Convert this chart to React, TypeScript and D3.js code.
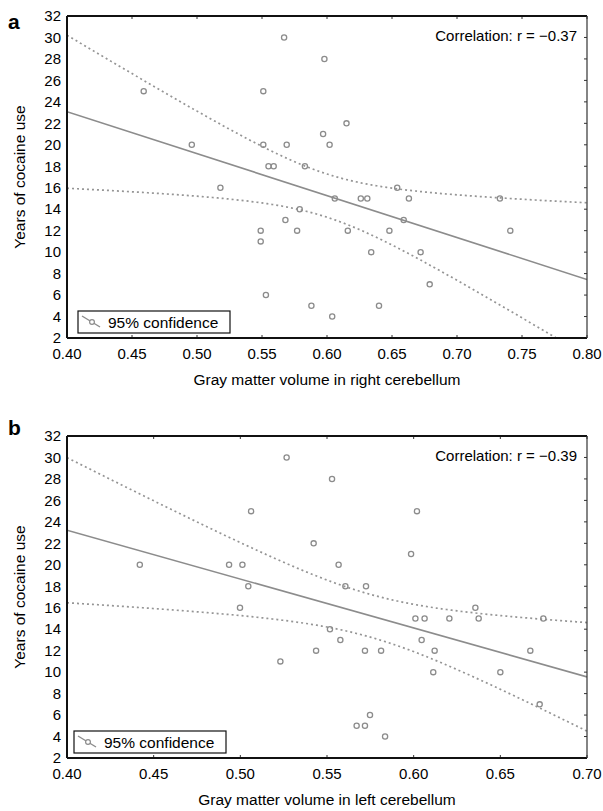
import React from "react";
import * as d3 from "d3";

// ---------- DATA ----------
const panelAX = [0.459, 0.496, 0.518, 0.549, 0.549, 0.551, 0.551, 0.553, 0.555, 0.559, 0.567, 0.568, 0.569, 0.577, 0.579, 0.583, 0.588, 0.597, 0.598, 0.602, 0.604, 0.606, 0.615, 0.616, 0.626, 0.631, 0.634, 0.640, 0.648, 0.654, 0.659, 0.663, 0.672, 0.679, 0.733, 0.741];
const panelAY = [25, 20, 16, 12, 11, 25, 20, 6, 18, 18, 30, 13, 20, 12, 14, 18, 5, 21, 28, 20, 4, 15, 22, 12, 15, 15, 10, 5, 12, 16, 13, 15, 10, 7, 15, 12];

const panelBX = [0.442, 0.4935, 0.4998, 0.5012, 0.5046, 0.5062, 0.5231, 0.5267, 0.5423, 0.5437, 0.5517, 0.5529, 0.5567, 0.5577, 0.5606, 0.5671, 0.5719, 0.5719, 0.5725, 0.5748, 0.5812, 0.5835, 0.5985, 0.6010, 0.6019, 0.6046, 0.6063, 0.6113, 0.6121, 0.6206, 0.6356, 0.6375, 0.6500, 0.6673, 0.6727, 0.6748];
const panelBY = [20, 20, 16, 20, 18, 25, 11, 30, 22, 12, 14, 28, 20, 13, 18, 5, 5, 12, 18, 6, 12, 4, 21, 15, 25, 13, 15, 10, 12, 15, 16, 15, 10, 12, 7, 15];

const xTicksA = [0.4, 0.45, 0.5, 0.55, 0.6, 0.65, 0.7, 0.75, 0.8];
const xTicksB = [0.4, 0.45, 0.5, 0.55, 0.6, 0.65, 0.7];
const yTicks = [2, 4, 6, 8, 10, 12, 14, 16, 18, 20, 22, 24, 26, 28, 30, 32];

const corrA = "Correlation: r = \u22120.37";
const corrB = "Correlation: r = \u22120.39";
const xTitleA = "Gray matter volume in right cerebellum";
const xTitleB = "Gray matter volume in left cerebellum";
const yTitle = "Years of cocaine use";
const legendLabel = "95% confidence";
const T_975_DF34 = 2.032;

const FONT = "'Liberation Sans', Arial, Helvetica, sans-serif";
const GREY = "#8c8c8c";

function fit(xs: number[], ys: number[]) {
  const n = xs.length;
  const mx = d3.mean(xs)!;
  const my = d3.mean(ys)!;
  let sxx = 0, sxy = 0;
  for (let i = 0; i < n; i++) {
    sxx += (xs[i] - mx) ** 2;
    sxy += (xs[i] - mx) * (ys[i] - my);
  }
  const b = sxy / sxx;
  const a = my - b * mx;
  let sse = 0;
  for (let i = 0; i < n; i++) sse += (ys[i] - a - b * xs[i]) ** 2;
  const s = Math.sqrt(sse / (n - 2));
  const hw = (x: number) => T_975_DF34 * s * Math.sqrt(1 / n + (x - mx) ** 2 / sxx);
  return { a, b, hw };
}

type PanelProps = {
  id: string;
  xs: number[];
  ys: number[];
  xTicks: number[];
  top: number;
  bottom: number;
  letter: string;
  letterY: number;
  corr: string;
  xTitle: string;
  legendX: number;
};

function Panel(p: PanelProps) {
  const left = 67, right = 587;
  const xDom: [number, number] = [p.xTicks[0], p.xTicks[p.xTicks.length - 1]];
  const x = d3.scaleLinear().domain(xDom).range([left, right]);
  const y = d3.scaleLinear().domain([2, 32]).range([p.bottom, p.top]);
  const { a, b, hw } = fit(p.xs, p.ys);
  const samples = d3.range(0, 201).map((i) => xDom[0] + ((xDom[1] - xDom[0]) * i) / 200);
  const up = d3.line<number>().x((v) => x(v)).y((v) => y(a + b * v + hw(v)))(samples)!;
  const lo = d3.line<number>().x((v) => x(v)).y((v) => y(a + b * v - hw(v)))(samples)!;
  const fitPath = d3.line<number>().x((v) => x(v)).y((v) => y(a + b * v))(xDom)!;
  const clipId = "clip-" + p.id;
  const ly = p.bottom - 27;
  return (
    <g>
      <defs>
        <clipPath id={clipId}>
          <rect x={left} y={p.top} width={right - left} height={p.bottom - p.top} />
        </clipPath>
      </defs>
      <text x={8} y={p.letterY} fontSize={21} fontWeight="bold" fontFamily={FONT}>{p.letter}</text>
      {/* y tick labels */}
      {yTicks.map((t) => (
        <text key={"y" + t} x={61} y={y(t)} dy="0.35em" textAnchor="end" fontSize={15} fontFamily={FONT}>{t}</text>
      ))}
      {/* x tick labels */}
      {p.xTicks.map((t) => (
        <text key={"x" + t} x={x(t)} y={p.bottom + 21} textAnchor="middle" fontSize={15} fontFamily={FONT}>{t.toFixed(2)}</text>
      ))}
      <text x={(left + right) / 2} y={p.bottom + 47} textAnchor="middle" fontSize={15.5} fontFamily={FONT}>{p.xTitle}</text>
      <text transform={`translate(25,${(p.top + p.bottom) / 2}) rotate(-90)`} textAnchor="middle" fontSize={15.5} fontFamily={FONT}>{yTitle}</text>
      {/* ticks inward */}
      {p.xTicks.map((t) => (
        <g key={"xt" + t}>
          <line x1={x(t)} x2={x(t)} y1={p.top} y2={p.top + 3} stroke="#333" strokeWidth={1} />
          <line x1={x(t)} x2={x(t)} y1={p.bottom} y2={p.bottom - 3} stroke="#333" strokeWidth={1} />
        </g>
      ))}
      {yTicks.map((t) => (
        <line key={"yt" + t} x1={right} x2={right - 3} y1={y(t)} y2={y(t)} stroke="#333" strokeWidth={1} />
      ))}
      <g clipPath={`url(#${clipId})`}>
        <path d={up} fill="none" stroke="#959595" strokeWidth={1.7} strokeDasharray="2,3" />
        <path d={lo} fill="none" stroke="#959595" strokeWidth={1.7} strokeDasharray="2,3" />
        <path d={fitPath} fill="none" stroke={GREY} strokeWidth={1.6} />
        {p.xs.map((v, i) => (
          <circle key={i} cx={x(v)} cy={y(p.ys[i])} r={2.6} fill="none" stroke={GREY} strokeWidth={1.3} />
        ))}
      </g>
      {/* frame */}
      <line x1={left} x2={right} y1={p.top} y2={p.top} stroke="#111" strokeWidth={2} />
      <line x1={left} x2={right} y1={p.bottom} y2={p.bottom} stroke="#111" strokeWidth={2} />
      <line x1={left} x2={left} y1={p.top} y2={p.bottom} stroke="#111" strokeWidth={2} />
      <line x1={right} x2={right} y1={p.top} y2={p.bottom} stroke="#333" strokeWidth={1.2} />
      <text x={577} y={p.top + 25} textAnchor="end" fontSize={15} fontFamily={FONT}>{p.corr}</text>
      {/* legend */}
      <rect x={p.legendX} y={ly} width={152} height={22} fill="#fff" stroke="#111" strokeWidth={1.2} />
      <line x1={p.legendX + 4} y1={ly + 5} x2={p.legendX + 22} y2={ly + 16} stroke={GREY} strokeWidth={1.4} />
      <circle cx={p.legendX + 14} cy={ly + 11} r={2.4} fill="#fff" stroke={GREY} strokeWidth={1.2} />
      <text x={p.legendX + 30} y={ly + 16.5} fontSize={15.5} fontFamily={FONT}>{legendLabel}</text>
    </g>
  );
}

export default function App() {
  return (
    <div style={{ position: "absolute", left: 0, top: 0 }}>
      <svg width={603} height={811} viewBox="0 0 603 811" style={{ display: "block", background: "#fff" }}>
        <Panel id="a" xs={panelAX} ys={panelAY} xTicks={xTicksA} top={16} bottom={338} letter="a" letterY={29} corr={corrA} xTitle={xTitleA} legendX={78} />
        <Panel id="b" xs={panelBX} ys={panelBY} xTicks={xTicksB} top={436} bottom={758} letter="b" letterY={435} corr={corrB} xTitle={xTitleB} legendX={74} />
      </svg>
    </div>
  );
}
